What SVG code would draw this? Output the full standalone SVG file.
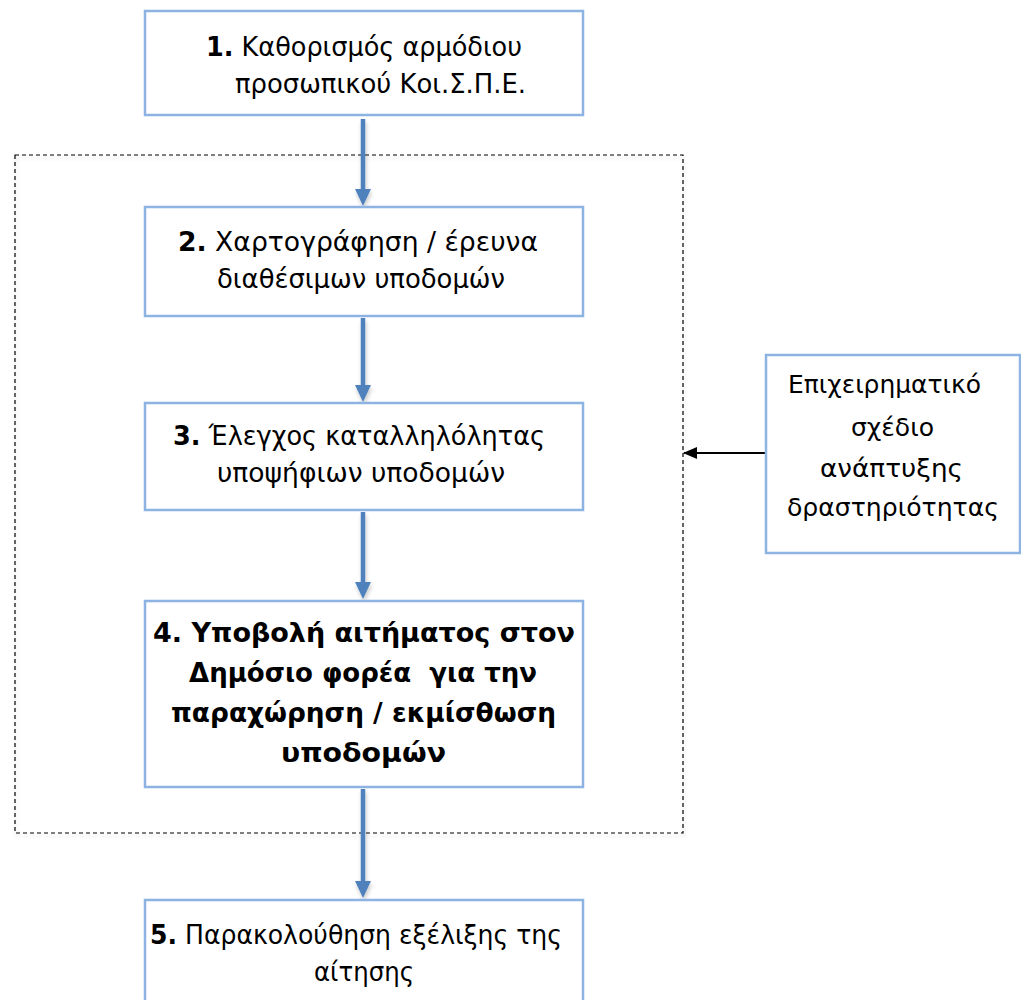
<svg xmlns="http://www.w3.org/2000/svg" width="1021" height="1000" viewBox="0 0 1021 1000">
<defs>
<style>
.box{fill:#fff;stroke:#8db3e2;stroke-width:2.5}
.t{font-family:"DejaVu Sans",Verdana,sans-serif;font-size:26px;fill:#000}
.s{font-size:25px}
.b{font-weight:bold}
.flow{stroke:#4f81bd;stroke-width:4.5;fill:none}
</style>
<filter id="sh" x="-10%" y="-10%" width="130%" height="130%">
<feGaussianBlur in="SourceAlpha" stdDeviation="2"/>
<feOffset dx="1" dy="3"/>
<feComponentTransfer><feFuncA type="linear" slope="0.22"/></feComponentTransfer>
<feMerge><feMergeNode/><feMergeNode in="SourceGraphic"/></feMerge>
</filter>
<marker id="ak" markerWidth="14" markerHeight="12" refX="13" refY="6" orient="auto" markerUnits="userSpaceOnUse">
<path d="M0,0 L14,6 L0,12 Z" fill="#000"/>
</marker>
</defs>
<rect width="1021" height="1000" fill="#fff"/>
<g id="group-frame">
<rect x="15" y="155" width="668" height="678" fill="none" stroke="#000" stroke-width="1.2" stroke-dasharray="4,3" filter="url(#sh)"/>
</g>
<g id="connectors">
<g filter="url(#sh)">
<path class="flow" d="M363,119 V191"/>
<path d="M355,189 L371,189 L363,206 Z" fill="#4f81bd"/>
<path class="flow" d="M363,318 V387"/>
<path d="M355,385 L371,385 L363,402 Z" fill="#4f81bd"/>
<path class="flow" d="M363,512 V584"/>
<path d="M355,582 L371,582 L363,599 Z" fill="#4f81bd"/>
<path class="flow" d="M363,789 V883"/>
<path d="M355,881 L371,881 L363,898 Z" fill="#4f81bd"/>
</g>
<path d="M766,453 H684" stroke="#000" stroke-width="1.8" marker-end="url(#ak)"/>
</g>
<g id="node1">
<rect class="box" x="145" y="11" width="438" height="104"/>
<text class="t" x="206" y="56" textLength="316" lengthAdjust="spacingAndGlyphs"><tspan class="b">1.</tspan> Καθορισμός αρμόδιου</text>
<text class="t" x="235" y="93" textLength="291" lengthAdjust="spacingAndGlyphs">προσωπικού Κοι.Σ.Π.Ε.</text>
</g>
<g id="node2">
<rect class="box" x="145" y="207" width="438" height="109"/>
<text class="t" x="178" y="251" textLength="360" lengthAdjust="spacingAndGlyphs"><tspan class="b">2.</tspan> Χαρτογράφηση / έρευνα</text>
<text class="t" x="217" y="288" textLength="288" lengthAdjust="spacingAndGlyphs">διαθέσιμων υποδομών</text>
</g>
<g id="node3">
<rect class="box" x="145" y="403" width="438" height="107"/>
<text class="t" x="173" y="445" textLength="372" lengthAdjust="spacingAndGlyphs"><tspan class="b">3.</tspan> Έλεγχος καταλληλόλητας</text>
<text class="t" x="217" y="482" textLength="288" lengthAdjust="spacingAndGlyphs">υποψήφιων υποδομών</text>
</g>
<g id="node4">
<rect class="box" x="145" y="601" width="438" height="186"/>
<text class="t b" x="153" y="642" textLength="422" lengthAdjust="spacingAndGlyphs">4. Υποβολή αιτήματος στον</text>
<text class="t b" x="189" y="682" textLength="348" lengthAdjust="spacingAndGlyphs" xml:space="preserve">Δημόσιο φορέα  για την</text>
<text class="t b" x="171" y="722" textLength="385" lengthAdjust="spacingAndGlyphs">παραχώρηση / εκμίσθωση</text>
<text class="t b" x="281" y="762" textLength="165" lengthAdjust="spacingAndGlyphs">υποδομών</text>
</g>
<g id="node5">
<rect class="box" x="145" y="900" width="438" height="110"/>
<text class="t" x="150" y="944" textLength="412" lengthAdjust="spacingAndGlyphs"><tspan class="b">5.</tspan> Παρακολούθηση εξέλιξης της</text>
<text class="t" x="314" y="981" textLength="100" lengthAdjust="spacingAndGlyphs">αίτησης</text>
</g>
<g id="node6">
<rect class="box" x="766" y="355" width="254" height="198"/>
<text class="t s" x="788" y="393" textLength="193" lengthAdjust="spacingAndGlyphs">Επιχειρηματικό</text>
<text class="t s" x="851" y="436" textLength="83" lengthAdjust="spacingAndGlyphs">σχέδιο</text>
<text class="t s" x="820" y="477" textLength="143" lengthAdjust="spacingAndGlyphs">ανάπτυξης</text>
<text class="t s" x="787" y="516" textLength="212" lengthAdjust="spacingAndGlyphs">δραστηριότητας</text>
</g>
</svg>
